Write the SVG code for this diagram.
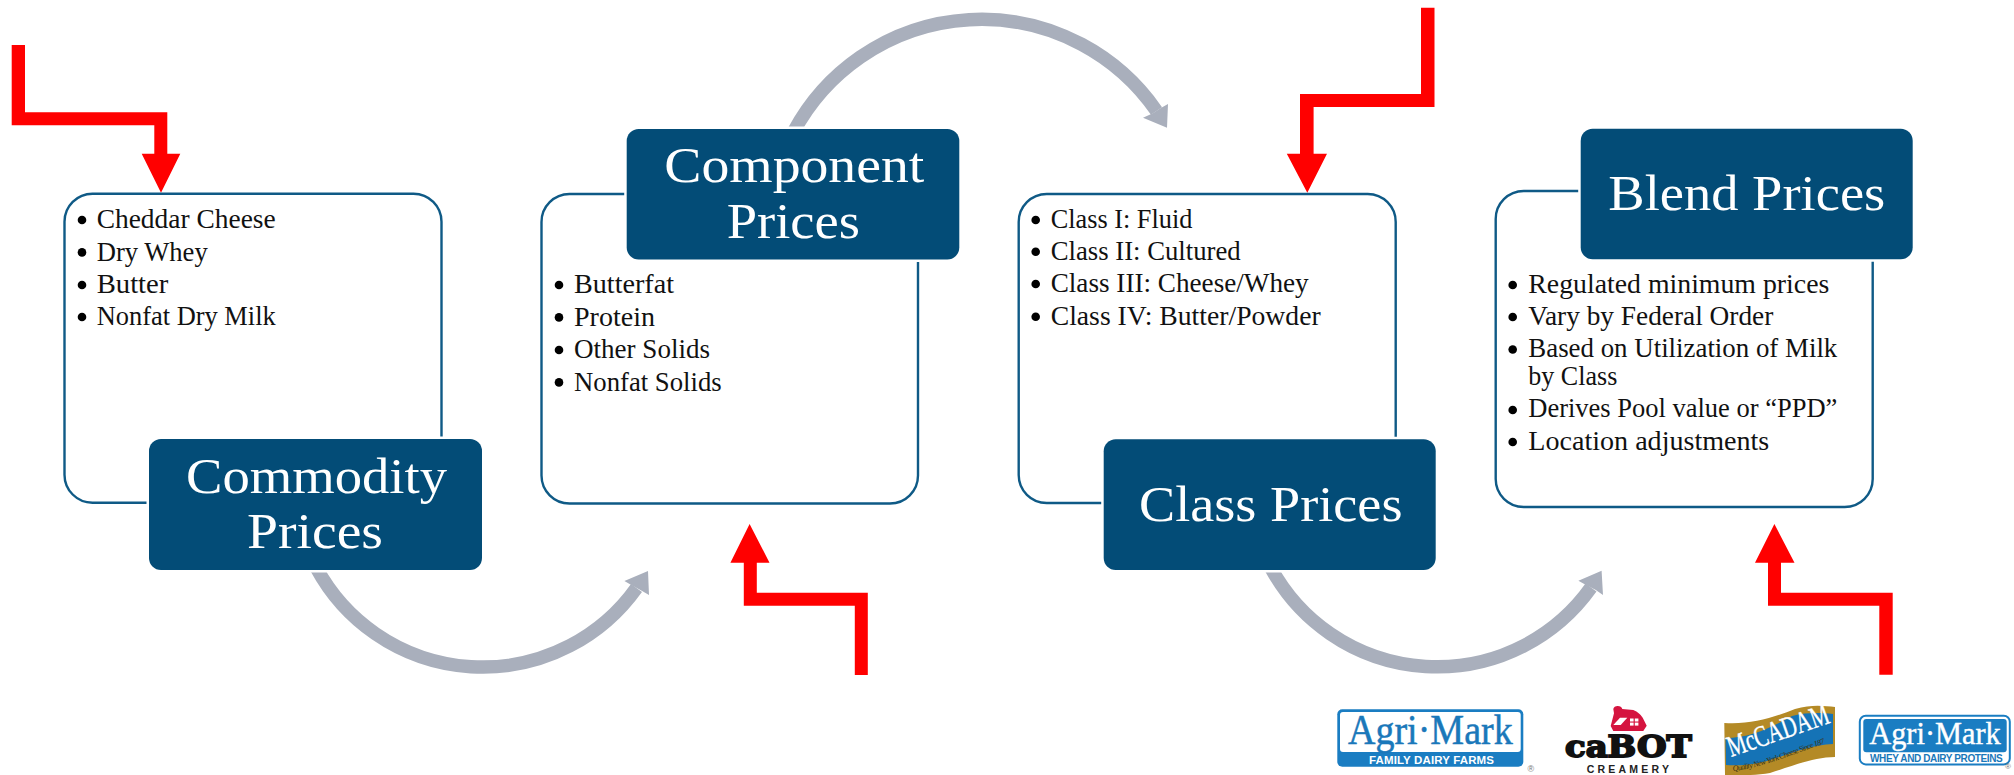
<svg xmlns="http://www.w3.org/2000/svg" width="2014" height="775" viewBox="0 0 2014 775">
<style>
text{font-family:"Liberation Serif","Times New Roman",serif}
.frame{fill:none;stroke:#0f5a86;stroke-width:2.4}
.halo{fill:#fff}
.head{fill:#034c77}
.title{font-size:51px;fill:#fff}
.item{font-size:27px;fill:#111}
.bullet{fill:#000}
.flow{fill:none;stroke:#a9afbc;stroke-width:13.5}
.tip{fill:#a9afbc}
.red{fill:#ff0000}
.sans{font-family:"Liberation Sans",Arial,sans-serif;font-weight:700}
</style>
<rect width="2014" height="775" fill="#fff"/>
<g id="connectors">
<path class="flow" d="M316.5 568A189 189 0 0 0 636.5 588"/>
<polygon class="tip" points="648,571 649,595 641.7,590.7 631.3,585 624.4,581"/>
<path class="flow" d="M793.5 132A213 213 0 0 1 1156.5 111"/>
<polygon class="tip" points="1167,127.7 1143,117.7 1152.9,113.3 1160.4,108.3 1168,104"/>
<path class="flow" d="M1271 568A189 189 0 0 0 1591 587.5"/>
<polygon class="tip" points="1601.6,570.7 1603,595 1595.8,590 1586,585 1578.4,580.7"/>
<polygon class="red" points="11.7,45 25,45 25,112.3 167.3,112.3 167.3,153.7 180.3,153.7 161,192.7 141.7,153.7 154.3,153.7 154.3,125.3 11.7,125.3"/>
<polygon class="red" points="749.6,524 769.5,562.7 756.8,562.7 756.8,592.7 867.8,592.7 867.8,675 854.8,675 854.8,605.7 743.8,605.7 743.8,562.7 730.4,562.7"/>
<polygon class="red" points="1421,7.7 1434.5,7.7 1434.5,107 1313.6,107 1313.6,153.7 1327,153.7 1307.3,192.7 1286.8,153.7 1300,153.7 1300,94 1421,94"/>
<polygon class="red" points="1774.4,524 1794.5,562.7 1781,562.7 1781,592.7 1892.7,592.7 1892.7,674.7 1879.3,674.7 1879.3,605.7 1768,605.7 1768,562.7 1755,562.7"/>
</g>
<g id="commodity">
<rect class="frame" x="64.5" y="193.7" width="377" height="309" rx="28"/>
<rect class="halo" x="146.5" y="436.5" width="338" height="136" rx="14"/>
<rect class="head" x="149" y="439" width="333" height="131" rx="12"/>
<text class="title" x="186" y="492.7" textLength="261" lengthAdjust="spacingAndGlyphs">Commodity</text>
<text class="title" x="247" y="548" textLength="136" lengthAdjust="spacingAndGlyphs">Prices</text>
<circle class="bullet" cx="82" cy="220" r="4.3"/><text class="item" x="96.7" y="228.3" textLength="179" lengthAdjust="spacingAndGlyphs">Cheddar Cheese</text>
<circle class="bullet" cx="82" cy="252.4" r="4.3"/><text class="item" x="96.7" y="260.7" textLength="111" lengthAdjust="spacingAndGlyphs">Dry Whey</text>
<circle class="bullet" cx="82" cy="285" r="4.3"/><text class="item" x="96.7" y="293.3" textLength="71.7" lengthAdjust="spacingAndGlyphs">Butter</text>
<circle class="bullet" cx="82" cy="317" r="4.3"/><text class="item" x="96.7" y="325.3" textLength="179" lengthAdjust="spacingAndGlyphs">Nonfat Dry Milk</text>
</g>
<g id="component">
<rect class="frame" x="541.5" y="194" width="376.5" height="309.5" rx="28"/>
<rect class="halo" x="624.2" y="126.5" width="337.6" height="135.4" rx="14"/>
<rect class="head" x="626.7" y="129" width="332.6" height="130.4" rx="12"/>
<text class="title" x="664.3" y="182.3" textLength="260" lengthAdjust="spacingAndGlyphs">Component</text>
<text class="title" x="726.7" y="238.3" textLength="133.3" lengthAdjust="spacingAndGlyphs">Prices</text>
<circle class="bullet" cx="559" cy="285" r="4.3"/><text class="item" x="574" y="293.3" textLength="100" lengthAdjust="spacingAndGlyphs">Butterfat</text>
<circle class="bullet" cx="559" cy="317.4" r="4.3"/><text class="item" x="574" y="325.7" textLength="81" lengthAdjust="spacingAndGlyphs">Protein</text>
<circle class="bullet" cx="559" cy="350" r="4.3"/><text class="item" x="574" y="358.3" textLength="136" lengthAdjust="spacingAndGlyphs">Other Solids</text>
<circle class="bullet" cx="559" cy="382.4" r="4.3"/><text class="item" x="574" y="390.7" textLength="147.7" lengthAdjust="spacingAndGlyphs">Nonfat Solids</text>
</g>
<g id="class">
<rect class="frame" x="1018.7" y="194" width="377" height="309" rx="28"/>
<rect class="halo" x="1101.2" y="436.8" width="337" height="135.7" rx="14"/>
<rect class="head" x="1103.7" y="439.3" width="332" height="130.7" rx="12"/>
<text class="title" x="1139" y="520.7" textLength="263.5" lengthAdjust="spacingAndGlyphs">Class Prices</text>
<circle class="bullet" cx="1035.7" cy="220" r="4.3"/><text class="item" x="1050.7" y="228.3" textLength="141.7" lengthAdjust="spacingAndGlyphs">Class I: Fluid</text>
<circle class="bullet" cx="1035.7" cy="251.7" r="4.3"/><text class="item" x="1050.7" y="260" textLength="190" lengthAdjust="spacingAndGlyphs">Class II: Cultured</text>
<circle class="bullet" cx="1035.7" cy="284" r="4.3"/><text class="item" x="1050.7" y="292.3" textLength="258" lengthAdjust="spacingAndGlyphs">Class III: Cheese/Whey</text>
<circle class="bullet" cx="1035.7" cy="316.7" r="4.3"/><text class="item" x="1050.7" y="325" textLength="270" lengthAdjust="spacingAndGlyphs">Class IV: Butter/Powder</text>
</g>
<g id="blend">
<rect class="frame" x="1495.7" y="191" width="377" height="316" rx="28"/>
<rect class="halo" x="1578.2" y="126.2" width="337" height="135.6" rx="14"/>
<rect class="head" x="1580.7" y="128.7" width="332" height="130.6" rx="12"/>
<text class="title" x="1608.3" y="210" textLength="277" lengthAdjust="spacingAndGlyphs">Blend Prices</text>
<circle class="bullet" cx="1512.7" cy="285" r="4.3"/><text class="item" x="1528.3" y="292.7" textLength="301" lengthAdjust="spacingAndGlyphs">Regulated minimum prices</text>
<circle class="bullet" cx="1512.7" cy="317" r="4.3"/><text class="item" x="1528.3" y="325" textLength="245" lengthAdjust="spacingAndGlyphs">Vary by Federal Order</text>
<circle class="bullet" cx="1512.7" cy="349.5" r="4.3"/><text class="item" x="1528.3" y="356.7" textLength="309" lengthAdjust="spacingAndGlyphs">Based on Utilization of Milk</text>
<text class="item" x="1528.3" y="385" textLength="89" lengthAdjust="spacingAndGlyphs">by Class</text>
<circle class="bullet" cx="1512.7" cy="410" r="4.3"/><text class="item" x="1528.3" y="417.3" textLength="309" lengthAdjust="spacingAndGlyphs">Derives Pool value or “PPD”</text>
<circle class="bullet" cx="1512.7" cy="442" r="4.3"/><text class="item" x="1528.3" y="450" textLength="241" lengthAdjust="spacingAndGlyphs">Location adjustments</text>
</g>
<g id="logos">
<g id="logo-agrimark-family">
<rect x="1337.3" y="709.3" width="186" height="57.4" rx="5" fill="#1a7dc2"/>
<rect x="1340" y="712" width="180.7" height="40" rx="3" fill="#fff"/>
<text x="1348" y="744.3" font-size="42" fill="#1a78ba" stroke="#1a78ba" stroke-width=".5" textLength="164.7" lengthAdjust="spacingAndGlyphs">Agri·Mark</text>
<text class="sans" x="1369" y="764" font-size="11.5" fill="#fff" textLength="125" lengthAdjust="spacing">FAMILY DAIRY FARMS</text>
<text class="sans" x="1527.5" y="772" font-size="9" fill="#777" style="font-weight:400">®</text>
</g>
<g id="logo-cabot">
<path d="M1614 713.3L1613.3 709Q1614 706 1617.7 706Q1621.5 706 1622.3 709L1633.3 710Q1640 713 1642.7 717.7L1646.7 725.7L1643.3 731H1613.3L1610.7 726Z" fill="#d5143f"/>
<polygon points="1613.3,725 1620,717.7 1627.3,717.7 1620.7,725" fill="#fff"/>
<rect x="1630" y="718.5" width="3.6" height="3" fill="#fff"/><rect x="1634.8" y="718.5" width="3.6" height="3" fill="#fff"/>
<rect x="1630" y="722.6" width="3.6" height="3" fill="#fff"/><rect x="1634.8" y="722.6" width="3.6" height="3" fill="#fff"/>
<text x="1565" y="756.5" font-size="29" fill="#111" stroke="#111" stroke-width="1.8" style="font-family:'DejaVu Serif',serif;font-weight:700" textLength="126.7" lengthAdjust="spacingAndGlyphs">caBOT</text>
<text class="sans" x="1586.7" y="772.6" font-size="10.5" fill="#222" textLength="82.3" lengthAdjust="spacing">CREAMERY</text>
</g>
<g id="logo-mccadam">
<path d="M1724.3 723C1750 725 1775 717 1795 709C1812 704 1825 706 1835 707V757C1815 757 1795 765 1770 773C1755 776 1735 775 1725 775Z" fill="#b48a26"/>
<path d="M1725.5 738C1750 738 1772 727 1792 716C1808 712 1822 713 1833 714V744C1812 745 1795 752 1770 760C1755 765 1738 766 1726 765Z" fill="#1573b6"/>
<path id="qu" d="M1733 771C1762 768 1790 755 1826 743" fill="none"/>
<text transform="translate(1731 757) rotate(-19) scale(.7 1)" font-size="30" fill="#fff" stroke="#fff" stroke-width=".4">McCADAM</text>
<text font-size="8" font-style="italic" fill="#3a3210"><textPath href="#qu" textLength="100">Quality New York Cheese Since 1876</textPath></text>
</g>
<g id="logo-agrimark-whey">
<rect x="1859.8" y="715.8" width="150" height="48.6" rx="6" fill="#fff" stroke="#1a7dc2" stroke-width="2"/>
<rect x="1863.3" y="719" width="143.4" height="33.3" rx="3" fill="#1a7dc2"/>
<text x="1869.3" y="744" font-size="32" fill="#fff" stroke="#fff" stroke-width=".4" textLength="131.4" lengthAdjust="spacingAndGlyphs">Agri·Mark</text>
<text class="sans" x="1870" y="761.7" font-size="10" fill="#1a78ba" textLength="132.7" lengthAdjust="spacing">WHEY AND DAIRY PROTEINS</text>
<text class="sans" x="2005" y="769" font-size="8" fill="#777" style="font-weight:400">®</text>
</g>
</g>
</svg>
